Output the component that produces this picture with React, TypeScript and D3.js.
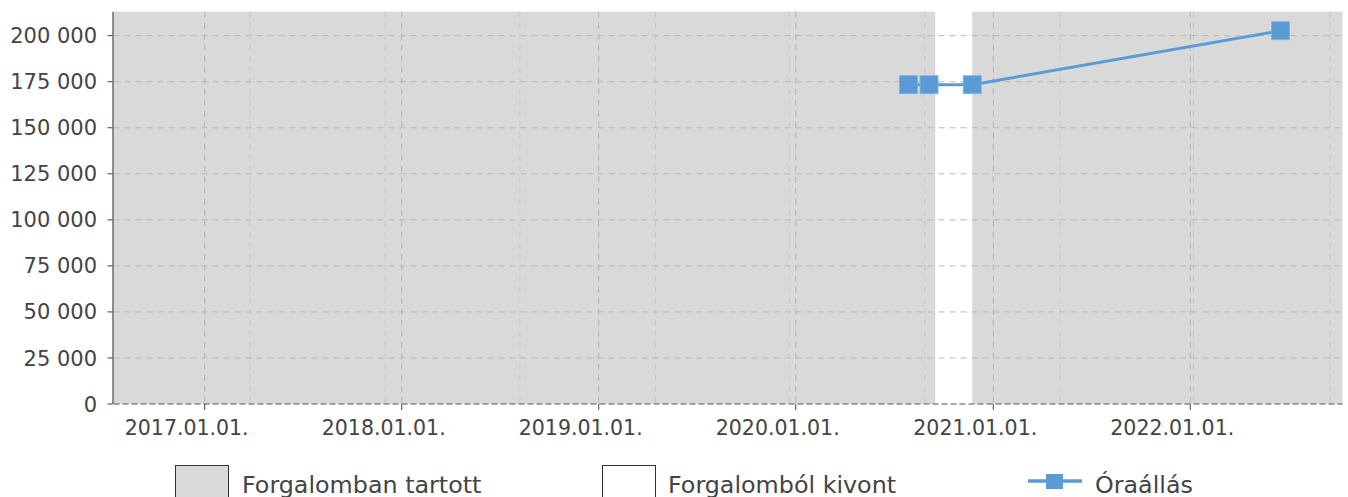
import React from "react";
import * as d3 from "d3";

// ---- data ----
const pointDates = ["2020-07-28", "2020-09-04", "2020-11-23", "2022-06-17"];
const pointValues = [173400, 173400, 173400, 202700];

const periodStarts = ["2016-07-16", "2020-09-16", "2020-11-23"];
const periodEnds = ["2020-09-16", "2020-11-23", "2022-10-10"];
const periodStatus = ["in", "out", "in"];

const yTicks = [0, 25000, 50000, 75000, 100000, 125000, 150000, 175000, 200000];
const xTickDates = ["2017-01-01", "2018-01-01", "2019-01-01", "2020-01-01", "2021-01-01", "2022-01-01"];
const xTickLabels = ["2017.01.01.", "2018.01.01.", "2019.01.01.", "2020.01.01.", "2021.01.01.", "2022.01.01."];
const minorDates = ["2017-03-26", "2017-12-01", "2018-08-08", "2019-04-16", "2019-12-20", "2020-08-27", "2021-05-05", "2022-01-07", "2022-09-17"];

const legendLabels = ["Forgalomban tartott", "Forgalomból kivont", "Óraállás"];

const W = 1348;
const H = 497;
const left = 113.5;
const right = 1342.5;
const top = 11.7;
const bottom = 404;

const FONT = "'DejaVu Sans', sans-serif";
const TEXT = "#444";
const GRAY = "#d9d9d9";
const BLUE = "#5b9bd5";

const pd = (s: string) => new Date(s + "T00:00:00");

export default function App() {
  const x = d3.scaleTime().domain([pd("2016-07-16"), pd("2022-10-10")]).range([left, right]);
  const y = d3.scaleLinear().domain([0, 213034]).range([bottom, top]);
  const fmt = (v: number) => d3.format(",")(v).replace(/,/g, " ");

  const pts = pointDates.map((d, i) => [x(pd(d)), y(pointValues[i])] as [number, number]);
  const line = d3.line()(pts) || "";
  const ms = 18;

  return (
    <svg width={W} height={H} style={{ position: "absolute", left: 0, top: 0, background: "#fff" }} fontFamily={FONT}>
      {periodStarts.map((s, i) => (
        <rect
          key={"p" + i}
          x={x(pd(s))}
          y={top}
          width={x(pd(periodEnds[i])) - x(pd(s))}
          height={bottom - top}
          fill={periodStatus[i] === "in" ? GRAY : "#fff"}
        />
      ))}
      {/* minor vertical grid */}
      {minorDates.map((d, i) => (
        <line key={"m" + i} x1={x(pd(d))} x2={x(pd(d))} y1={top} y2={bottom} stroke="#c8c8c8" strokeWidth={1} strokeDasharray="6,5" />
      ))}
      {/* major vertical grid */}
      {xTickDates.map((d, i) => (
        <line key={"v" + i} x1={x(pd(d))} x2={x(pd(d))} y1={top} y2={bottom} stroke="#b3b3b3" strokeWidth={1} strokeDasharray="6,5" />
      ))}
      {/* horizontal grid */}
      {yTicks.filter((t) => t > 0).map((t, i) => (
        <line key={"h" + i} x1={left} x2={right} y1={y(t)} y2={y(t)} stroke="#b8b8b8" strokeWidth={1} strokeDasharray="6,5" />
      ))}
      {/* zero line */}
      <line x1={left} x2={right} y1={bottom} y2={bottom} stroke="#555" strokeWidth={1.2} strokeDasharray="6,3" />
      {/* left spine */}
      <line x1={left - 0.5} x2={left - 0.5} y1={top} y2={bottom} stroke="#444" strokeWidth={1.2} />
      {/* y ticks */}
      {yTicks.map((t, i) => (
        <g key={"yt" + i}>
          <line x1={left - 6} x2={left - 1} y1={y(t)} y2={y(t)} stroke="#444" strokeWidth={1} />
          <text x={97} y={y(t)} dy="0.36em" textAnchor="end" fontSize={21} fill={TEXT}>
            {fmt(t)}
          </text>
        </g>
      ))}
      {/* x ticks */}
      {xTickDates.map((d, i) => (
        <g key={"xt" + i}>
          <line x1={x(pd(d))} x2={x(pd(d))} y1={bottom} y2={bottom + 6} stroke="#444" strokeWidth={1} />
          <text x={x(pd(d)) - 18} y={434.5} textAnchor="middle" fontSize={20.5} fill={TEXT}>
            {xTickLabels[i]}
          </text>
        </g>
      ))}
      {/* series */}
      <path d={line} fill="none" stroke={BLUE} strokeWidth={3} />
      {pts.map((p, i) => (
        <rect key={"pt" + i} x={p[0] - ms / 2} y={p[1] - ms / 2} width={ms} height={ms} fill={BLUE} stroke="#7fb2e0" strokeWidth={0.8} />
      ))}
      {/* legend */}
      <rect x={175.5} y={465.5} width={53} height={40} fill={GRAY} stroke="#333" strokeWidth={1} />
      <text x={242} y={492.7} fontSize={23.8} fill={TEXT}>{legendLabels[0]}</text>
      <rect x={602.5} y={465.5} width={53} height={40} fill="#fff" stroke="#333" strokeWidth={1} />
      <text x={668} y={492.7} fontSize={23.8} fill={TEXT}>{legendLabels[1]}</text>
      <line x1={1028} x2={1082} y1={481} y2={481} stroke={BLUE} strokeWidth={3.5} />
      <rect x={1046} y={474} width={17} height={15} fill={BLUE} />
      <text x={1095} y={492.7} fontSize={23.8} fill={TEXT}>{legendLabels[2]}</text>
    </svg>
  );
}
